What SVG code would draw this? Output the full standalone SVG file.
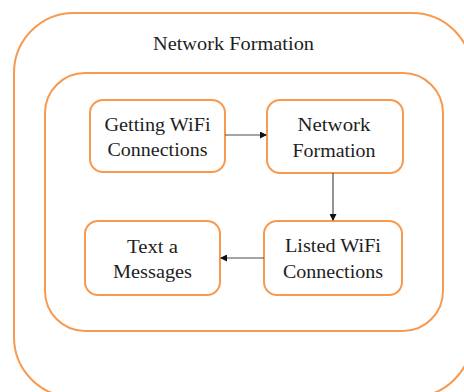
<svg xmlns="http://www.w3.org/2000/svg" width="464" height="392" viewBox="0 0 464 392">
  <style>
    .frame { fill: none; stroke: #F79A50; stroke-width: 2; }
    .box { fill: #ffffff; stroke: #F79A50; stroke-width: 2; }
    text { font-family: "Liberation Serif", "DejaVu Serif", serif; font-stretch: condensed; font-size: 19px; fill: #1e1e1e; text-anchor: middle; }
    .link { stroke: #4a4a4a; stroke-width: 1.2; fill: none; marker-end: url(#head); }
  </style>
  <defs>
    <marker id="head" markerWidth="7" markerHeight="7" refX="6" refY="3.5" orient="auto" markerUnits="userSpaceOnUse">
      <path d="M0,0 L7,3.5 L0,7 Z" fill="#111"/>
    </marker>
  </defs>
  <rect width="464" height="392" fill="#ffffff"/>

  <g id="outer-frame">
    <rect class="frame" x="14" y="13" width="458" height="384" rx="60" ry="60"/>
    <text x="233.5" y="50" textLength="161" lengthAdjust="spacingAndGlyphs">Network Formation</text>
  </g>

  <g id="inner-frame">
    <rect class="frame" x="45" y="73" width="398" height="258" rx="40" ry="40"/>
  </g>

  <g id="getting-wifi">
    <rect class="box" x="90" y="100" width="135" height="72" rx="13" ry="13"/>
    <text x="157.5" y="131" textLength="106" lengthAdjust="spacingAndGlyphs">Getting WiFi</text>
    <text x="157.5" y="156" textLength="100" lengthAdjust="spacingAndGlyphs">Connections</text>
  </g>

  <g id="network-formation">
    <rect class="box" x="267" y="100" width="136" height="73" rx="13" ry="13"/>
    <text x="334" y="131" textLength="73" lengthAdjust="spacingAndGlyphs">Network</text>
    <text x="334" y="157" textLength="83" lengthAdjust="spacingAndGlyphs">Formation</text>
  </g>

  <g id="text-messages">
    <rect class="box" x="85" y="221" width="135" height="74" rx="13" ry="13"/>
    <text x="152.5" y="253" textLength="51" lengthAdjust="spacingAndGlyphs">Text a</text>
    <text x="152.5" y="278" textLength="79" lengthAdjust="spacingAndGlyphs">Messages</text>
  </g>

  <g id="listed-wifi">
    <rect class="box" x="264" y="221" width="138" height="74" rx="13" ry="13"/>
    <text x="333" y="252" textLength="96" lengthAdjust="spacingAndGlyphs">Listed WiFi</text>
    <text x="333" y="278" textLength="100" lengthAdjust="spacingAndGlyphs">Connections</text>
  </g>

  <g id="connectors">
    <line class="link" x1="225" y1="135" x2="266" y2="135"/>
    <line class="link" x1="333" y1="173" x2="333" y2="220"/>
    <line class="link" x1="264" y1="258" x2="221" y2="258"/>
  </g>
</svg>
